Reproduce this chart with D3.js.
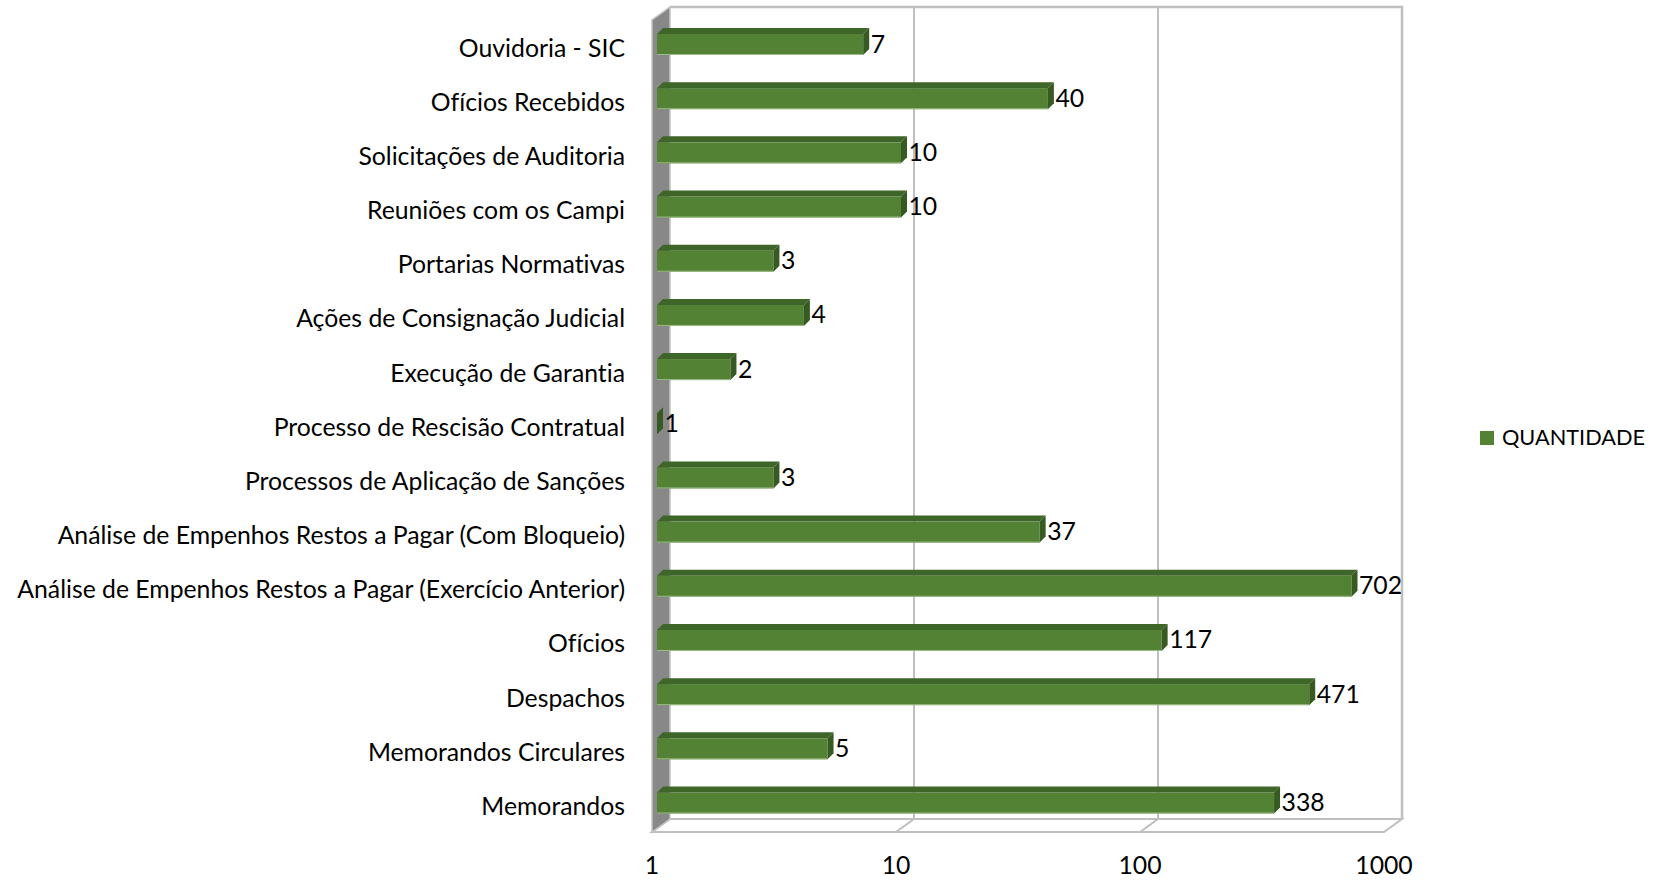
<!DOCTYPE html>
<html>
<head>
<meta charset="utf-8">
<script src="https://cdn.jsdelivr.net/npm/d3@7"></script>
<style>
  html, body { margin: 0; padding: 0; background: #ffffff; }
  svg { display: block; }
  text { font-family: Lato, "Open Sans", "Noto Sans", sans-serif; fill: #000; font-variant-ligatures: none; }
</style>
</head>
<body>
<svg id="chart" width="1660" height="881"></svg>
<script>
const categories = [
  "Ouvidoria - SIC",
  "Ofícios Recebidos",
  "Solicitações de Auditoria",
  "Reuniões com os Campi",
  "Portarias Normativas",
  "Ações de Consignação Judicial",
  "Execução de Garantia",
  "Processo de Rescisão Contratual",
  "Processos de Aplicação de Sanções",
  "Análise de Empenhos Restos a Pagar (Com Bloqueio)",
  "Análise de Empenhos Restos a Pagar (Exercício Anterior)",
  "Ofícios",
  "Despachos",
  "Memorandos Circulares",
  "Memorandos"
];
const values = [7, 40, 10, 10, 3, 4, 2, 1, 3, 37, 702, 117, 471, 5, 338];
const tickValues = [1, 10, 100, 1000];
const tickLabels = ["1", "10", "100", "1000"];
const seriesName = "QUANTIDADE";

const svg = d3.select("#chart");
svg.append("rect").attr("width", 1660).attr("height", 881).attr("fill", "#fff");

// geometry
const backLeft = 670, backRight = 1402, backTop = 7, backBottom = 819;
const depthDx = -18, depthDy = 13;
const x = d3.scaleLog().domain([1, 1000]).range([backLeft, backRight]);
const y = d3.scalePoint().domain(categories).range([44.5, 803]);
const barOffset = -13, barHalf = 10.5, bd = 6;

// font size fit
function fitSize(str, target) {
  const probe = svg.append("text").attr("font-size", 20).text(str);
  const w = probe.node().getComputedTextLength();
  probe.remove();
  return 20 * target / w;
}
const fs = fitSize(categories[10], 608);
const legendFs = Math.min(fs, fitSize(seriesName, 143));

const gridColor = "#bfbfbf";

// back wall top and right border
svg.append("path")
  .attr("d", `M${backLeft},${backTop}H${backRight}V${backBottom}`)
  .attr("fill", "none").attr("stroke", gridColor).attr("stroke-width", 2.5);

// floor
svg.append("path")
  .attr("d", `M${backLeft},${backBottom}H${backRight}L${backRight + depthDx},${backBottom + depthDy}H${backLeft + depthDx}Z`)
  .attr("fill", "#fff").attr("stroke", gridColor).attr("stroke-width", 2);

// gridlines
const grid = svg.append("g");
tickValues.slice(1, -1).forEach(t => {
  grid.append("path")
    .attr("d", `M${x(t)},${backTop}V${backBottom}L${x(t) + depthDx},${backBottom + depthDy}`)
    .attr("fill", "none").attr("stroke", gridColor).attr("stroke-width", 2);
});

// left wall
svg.append("path")
  .attr("d", `M${backLeft},${backTop}V${backBottom}L${backLeft + depthDx},${backBottom + depthDy}V${backTop + depthDy}Z`)
  .attr("fill", "#888888").attr("stroke", "#c4c4c4").attr("stroke-width", 1.5);

// bars
const bars = svg.append("g");
categories.forEach((c, i) => {
  const cy = y(c);
  const x0 = x(1) + barOffset;
  const x1 = x(values[i]) + barOffset;
  const top = cy - barHalf, bot = cy + barHalf;
  if (x1 > x0) {
    bars.append("rect").attr("x", x0).attr("y", top).attr("width", x1 - x0).attr("height", bot - top)
      .attr("fill", "#548235");
    bars.append("line").attr("x1", x0).attr("x2", x1).attr("y1", bot - 0.5).attr("y2", bot - 0.5)
      .attr("stroke", "#9cbc86").attr("stroke-width", 1);
    bars.append("path")
      .attr("d", `M${x0},${top}L${x0 + bd},${top - bd}H${x1 + bd}L${x1},${top}Z`)
      .attr("fill", "#3f6629");
  }
  bars.append("path")
    .attr("d", `M${x1},${top}L${x1 + bd},${top - bd}V${bot - bd}L${x1},${bot}Z`)
    .attr("fill", "#375a22");
  // value label
  svg.append("text")
    .attr("x", x1 + bd + 1.5).attr("y", cy + 8)
    .attr("font-size", fs)
    .text(values[i]);
  // category label
  svg.append("text")
    .attr("x", 625).attr("y", cy + 12)
    .attr("text-anchor", "end")
    .attr("font-size", fs)
    .text(c);
});

// tick labels
tickValues.forEach((t, i) => {
  svg.append("text")
    .attr("x", x(t) + depthDx).attr("y", 874)
    .attr("text-anchor", "middle")
    .attr("font-size", fs)
    .text(tickLabels[i]);
});

// legend
svg.append("rect").attr("x", 1480).attr("y", 431).attr("width", 14).attr("height", 14).attr("fill", "#548235");
svg.append("text").attr("x", 1502).attr("y", 445).attr("font-size", legendFs).text(seriesName);
</script>
</body>
</html>
